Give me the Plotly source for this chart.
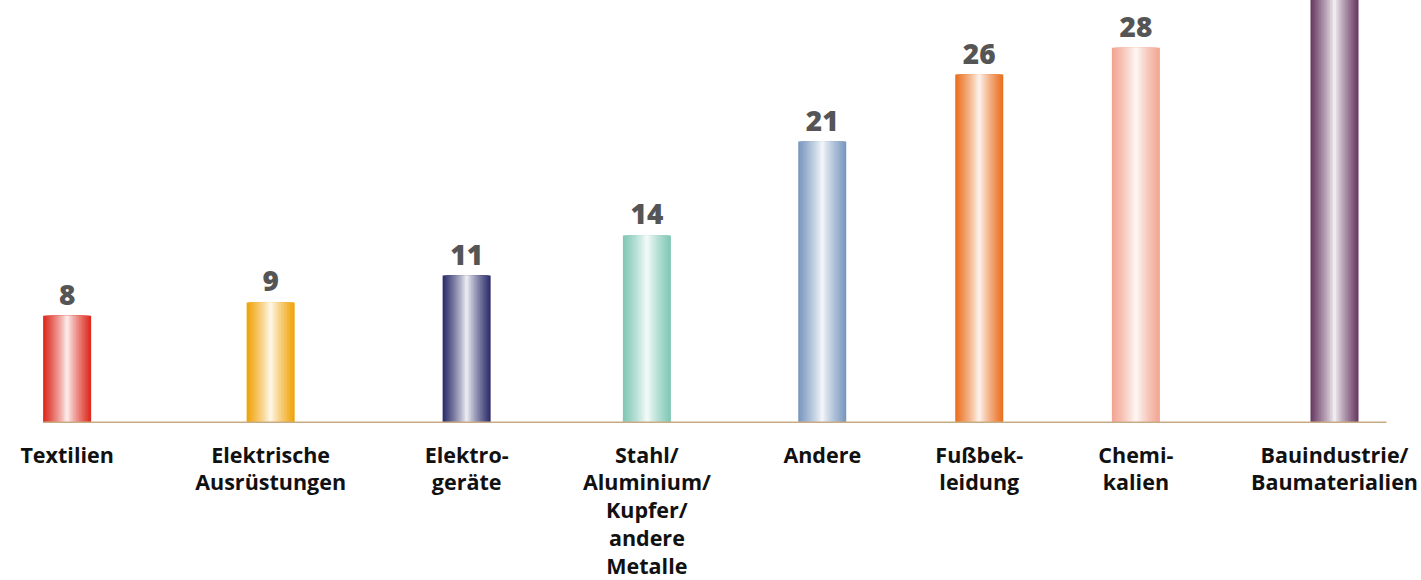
import plotly.graph_objects as go

# ---- data ----
categories = [
    "Textilien",
    "Elektrische<br>Ausrüstungen",
    "Elektro-<br>geräte",
    "Stahl/<br>Aluminium/<br>Kupfer/<br>andere<br>Metalle",
    "Andere",
    "Fußbek-<br>leidung",
    "Chemi-<br>kalien",
    "Bauindustrie/<br>Baumaterialien",
]
values = [8, 9, 11, 14, 21, 26, 28, 35]
value_labels = ["8", "9", "11", "14", "21", "26", "28", "35"]
colors = ["#dc2a1e", "#f0a30a", "#2d2e6b", "#80c8b5",
          "#7a98bf", "#ea7020", "#f2a593", "#6a3c65"]

# ---- layout helpers (flex-like columns sized by label text) ----
CHAR_UNIT = 15.0
GAP = 64.0
START = 12.0
BAR_W = 48.0
PX_PER_UNIT = 13.4
BASE_PX = 423.0
W, H = 1421, 580


def char_w(ch):
    if ch in "iltfrj/-I":
        return 0.55
    if ch in "mwMW":
        return 1.4
    if ch.isupper():
        return 1.15
    return 1.0


def text_width(label):
    return max(sum(char_w(c) for c in line) for line in label.split("<br>")) * CHAR_UNIT


centers = []
left = START
for lab in categories:
    w = text_width(lab)
    centers.append(left + w / 2)
    left += w + GAP


def mix(hex_color, f):
    h = hex_color.lstrip("#")
    r, g, b = (int(h[i:i + 2], 16) for i in (0, 2, 4))
    r = round(255 + (r - 255) * f)
    g = round(255 + (g - 255) * f)
    b = round(255 + (b - 255) * f)
    return f"rgb({r},{g},{b})"


fig = go.Figure()
N = 16
for k in range(N):
    f = 1 - k / N
    fig.add_trace(go.Bar(
        x=centers,
        y=values,
        width=BAR_W * f,
        marker=dict(color=[mix(c, f ** 0.8) for c in colors], line=dict(width=0)),
        text=value_labels if k == 0 else None,
        textposition="outside" if k == 0 else "none",
        textfont=dict(family="Open Sans", size=28, weight=800, color="#555555"),
        cliponaxis=False,
        hoverinfo="skip",
        showlegend=False,
    ))

fig.add_shape(type="line", xref="x", yref="y",
              x0=centers[0] - BAR_W / 2, x1=centers[-1] + BAR_W / 2 + 28,
              y0=0, y1=0, line=dict(color="#c9ab83", width=3), layer="above")

fig.update_layout(
    width=W, height=H,
    margin=dict(l=0, r=0, t=0, b=H - BASE_PX),
    barmode="overlay",
    plot_bgcolor="white", paper_bgcolor="white",
    xaxis=dict(range=[0, W], showgrid=False, zeroline=False, showline=False,
               automargin=False,
               tickmode="array", tickvals=centers, ticktext=categories,
               ticks="", ticklabelstandoff=17,
               tickfont=dict(family="Open Sans", size=21.5, weight=700, color="#111111"),
               fixedrange=True),
    yaxis=dict(range=[0, BASE_PX / PX_PER_UNIT], visible=False, fixedrange=True,
               automargin=False),
)

fig.write_html("out.html", post_script="document.body.style.margin='0';",
               config={"displayModeBar": False})
